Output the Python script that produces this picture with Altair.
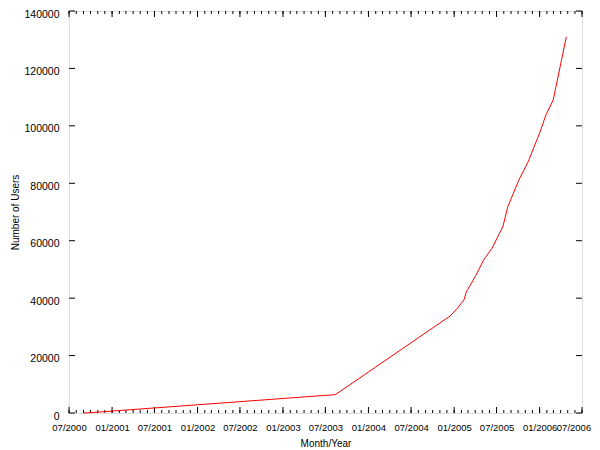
import altair as alt
import pandas as pd

dates = ["2000-09-01", "2000-11-01", "2003-08-13", "2004-12-15", "2005-01-15",
         "2005-02-12", "2005-02-22", "2005-04-01", "2005-05-07", "2005-06-12",
         "2005-07-28", "2005-08-18", "2005-10-04", "2005-11-13", "2006-01-01",
         "2006-01-28", "2006-02-28", "2006-04-25"]
users = [0, 300, 6400, 33800, 36500,
         39400, 42200, 47500, 53300, 57400,
         64900, 71800, 81100, 87500, 97500,
         103800, 109000, 131000]

x_label_dates = ["2000-07-01", "2001-01-01", "2001-07-01", "2002-01-01", "2002-07-01",
                 "2003-01-01", "2003-07-01", "2004-01-01", "2004-07-01", "2005-01-01",
                 "2005-07-01", "2006-01-01", "2006-07-01"]
y_ticks = [0, 20000, 40000, 60000, 80000, 100000, 120000, 140000]

df = pd.DataFrame({"date": pd.to_datetime(dates), "users": users})
months = pd.date_range("2000-07-01", "2006-07-01", freq="MS")
minor = pd.DataFrame({"date": months})
major = pd.DataFrame({"date": pd.to_datetime(x_label_dates)})
yt = pd.DataFrame({"v": y_ticks})

W, H = 513, 402
FONT = "Liberation Sans"

xscale = alt.Scale(domain=[pd.Timestamp("2000-07-01").isoformat(), pd.Timestamp("2006-07-01").isoformat()])
yscale = alt.Scale(domain=[0, 140000])

x_enc = alt.X("date:T", scale=xscale,
              axis=alt.Axis(values=[pd.Timestamp(d).isoformat() for d in x_label_dates],
                            format="%m/%Y", title="Month/Year", grid=False, domain=False,
                            tickSize=0, labelPadding=9, labelFontSize=9.5, labelFont=FONT,
                            labelOffset=alt.ExprRef(expr="datum.value >= datetime(2006, 5, 1) ? -8.5 : 0"),
                            titleFont=FONT, titleFontSize=10, titleFontWeight="normal",
                            titlePadding=7, labelColor="black", titleColor="black",
                            labelFlush=False, labelOverlap=False))
y_enc = alt.Y("users:Q", scale=yscale,
              axis=alt.Axis(values=y_ticks, format="d", title="Number of Users", grid=False,
                            domain=False, tickSize=0, labelPadding=10, labelFontSize=10.5,
                            labelOffset=3, labelFlush=False,
                            labelFont=FONT, titleFont=FONT, titleFontSize=10,
                            titleFontWeight="normal", titlePadding=3,
                            labelColor="black", titleColor="black"))

line = alt.Chart(df).mark_line(color="red", strokeWidth=1).encode(x=x_enc, y=y_enc)

def xt(data, y1, y2):
    return alt.Chart(data).mark_rule(color="black", strokeWidth=1).encode(
        x=alt.X("date:T", scale=xscale), y=alt.value(y1), y2=alt.value(y2))

def ytick(x1, x2):
    return alt.Chart(yt).mark_rule(color="black", strokeWidth=1).encode(
        y=alt.Y("v:Q", scale=yscale), x=alt.value(x1), x2=alt.value(x2))

layers = [
    xt(minor, H, H - 3), xt(major, H, H - 6),
    xt(minor, 0, 3), xt(major, 0, 6),
    ytick(0, 6), ytick(W - 6, W),
    line,
]

chart = alt.layer(*layers).properties(
    width=W, height=H,
    autosize=alt.AutoSizeParams(type="none"),
    padding={"left": 61, "top": 3, "right": 10, "bottom": 39},
).configure_view(stroke="black", strokeWidth=1).configure(background="white")

chart.save("out.html", embed_options={"renderer": "svg", "actions": False})
